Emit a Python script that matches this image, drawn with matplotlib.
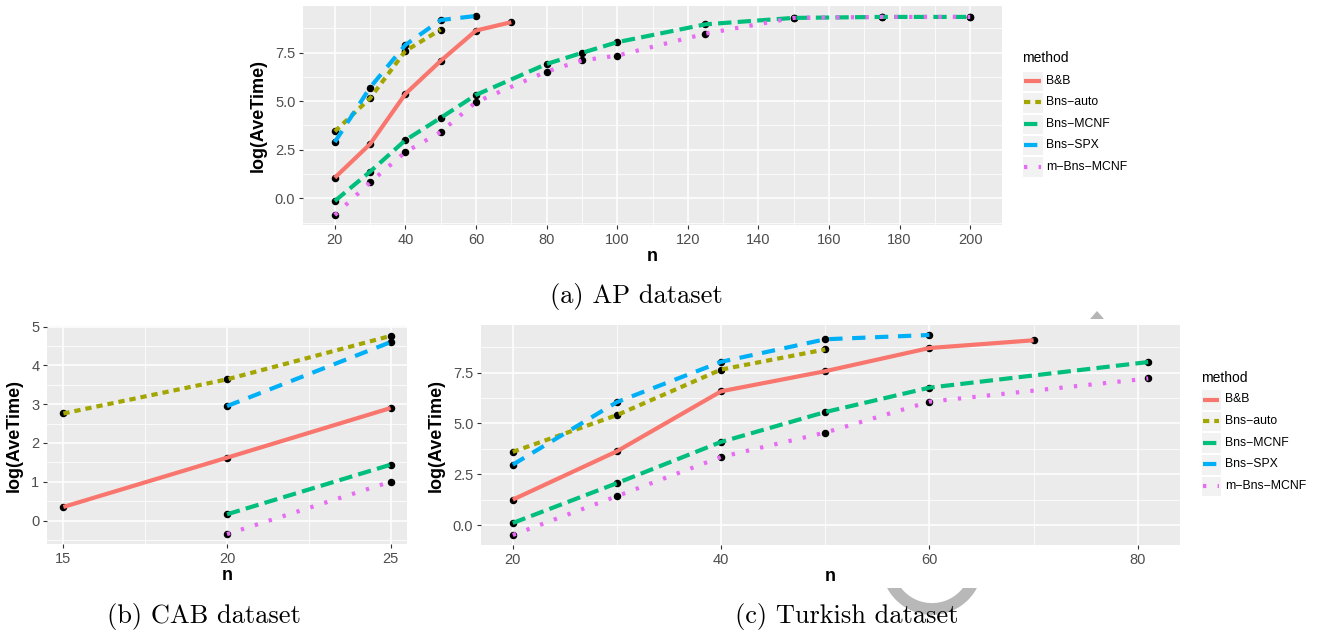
"""Average running time (log) of the five methods on the AP, CAB and Turkish datasets."""

import matplotlib
matplotlib.use("Agg")  # headless
import matplotlib.pyplot as plt
from matplotlib.lines import Line2D
from matplotlib.patches import Rectangle, Arc, Polygon
from matplotlib.ticker import MultipleLocator, FormatStrFormatter
from matplotlib.transforms import Bbox, TransformedBbox

plt.rcParams["font.family"] = ["Liberation Sans", "DejaVu Sans"]

W, H = 1317, 635

methods = ["B&B", "Bns-auto", "Bns-MCNF", "Bns-SPX", "m-Bns-MCNF"]
labels = ["B&B", "Bns\u2212auto", "Bns\u2212MCNF", "Bns\u2212SPX", "m\u2212Bns\u2212MCNF"]
colors = ["#F8766D", "#A3A500", "#00BF7D", "#00B0F6", "#E76BF3"]
dashes = [None, (1.5, 1.2), (3.2, 1.5), (3.2, 2.3), (0.8, 2.7)]

# (a) AP dataset
ap_bb_n = [20, 30, 40, 50, 60, 70]
ap_bb = [1.06, 2.79, 5.37, 7.07, 8.63, 9.06]
ap_auto_n = [20, 30, 40, 50]
ap_auto = [3.44, 5.15, 7.58, 8.68]
ap_mcnf_n = [20, 30, 40, 50, 60, 80, 90, 100, 125, 150, 175, 200]
ap_mcnf = [-0.14, 1.37, 2.99, 4.14, 5.32, 6.91, 7.48, 8.03, 8.95, 9.28, 9.33, 9.33]
ap_spx_n = [20, 30, 40, 50, 60]
ap_spx = [2.89, 5.70, 7.89, 9.17, 9.38]
ap_mmcnf_n = [20, 30, 40, 50, 60, 80, 90, 100, 125, 150, 175, 200]
ap_mmcnf = [-0.86, 0.82, 2.38, 3.41, 4.95, 6.52, 7.09, 7.34, 8.47, 9.28, 9.33, 9.33]

# (b) CAB dataset
cab_bb_n = [15, 20, 25]
cab_bb = [0.35, 1.62, 2.90]
cab_auto_n = [15, 20, 25]
cab_auto = [2.76, 3.64, 4.76]
cab_mcnf_n = [20, 25]
cab_mcnf = [0.16, 1.44]
cab_spx_n = [20, 25]
cab_spx = [2.95, 4.60]
cab_mmcnf_n = [20, 25]
cab_mmcnf = [-0.35, 1.00]

# (c) Turkish dataset
tr_bb_n = [20, 30, 40, 50, 60, 70]
tr_bb = [1.25, 3.63, 6.58, 7.57, 8.71, 9.09]
tr_auto_n = [20, 30, 40, 50]
tr_auto = [3.60, 5.41, 7.65, 8.64]
tr_mcnf_n = [20, 30, 40, 50, 60, 81]
tr_mcnf = [0.10, 2.06, 4.09, 5.56, 6.76, 8.02]
tr_spx_n = [20, 30, 40, 50, 60]
tr_spx = [2.97, 6.05, 8.03, 9.14, 9.35]
tr_mmcnf_n = [20, 30, 40, 50, 60, 81]
tr_mmcnf = [-0.49, 1.42, 3.35, 4.55, 6.07, 7.21]

panels = {
    "ap": [(ap_bb_n, ap_bb), (ap_auto_n, ap_auto), (ap_mcnf_n, ap_mcnf),
           (ap_spx_n, ap_spx), (ap_mmcnf_n, ap_mmcnf)],
    "cab": [(cab_bb_n, cab_bb), (cab_auto_n, cab_auto), (cab_mcnf_n, cab_mcnf),
            (cab_spx_n, cab_spx), (cab_mmcnf_n, cab_mmcnf)],
    "tr": [(tr_bb_n, tr_bb), (tr_auto_n, tr_auto), (tr_mcnf_n, tr_mcnf),
           (tr_spx_n, tr_spx), (tr_mmcnf_n, tr_mmcnf)],
}

LW = 3.0


def px_box(l, t, r, b):
    return [l / W, 1 - b / H, (r - l) / W, (b - t) / H]


def fx(x):
    return x / W


def fy(y):
    return 1 - y / H


def expand(vals):
    lo, hi = min(vals), max(vals)
    pad = 0.05 * (hi - lo)
    return lo - pad, hi + pad


def draw_panel(ax, series, xmaj, ymaj, yfmt, ylabelpad):
    xs = [v for s in series for v in s[0]]
    ys = [v for s in series for v in s[1]]
    ax.set_facecolor("#EBEBEB")
    for sp in ax.spines.values():
        sp.set_visible(False)
    for (x, y), c, d in zip(series, colors, dashes):
        ax.plot(x, y, "o", color="black", ms=4.4, zorder=2)
        ln, = ax.plot(x, y, color=c, lw=LW, zorder=3, solid_capstyle="butt",
                      dash_capstyle="butt")
        if d is not None:
            ln.set_dashes(d)
    ax.set_xlim(*expand(xs))
    ax.set_ylim(*expand(ys))
    ax.xaxis.set_major_locator(MultipleLocator(xmaj))
    ax.xaxis.set_minor_locator(MultipleLocator(xmaj / 2))
    ax.yaxis.set_major_locator(MultipleLocator(ymaj))
    ax.yaxis.set_minor_locator(MultipleLocator(ymaj / 2))
    ax.yaxis.set_major_formatter(FormatStrFormatter(yfmt))
    ax.grid(which="major", color="white", lw=1.1)
    ax.grid(which="minor", color="white", lw=0.55)
    ax.set_axisbelow(True)
    ax.tick_params(which="major", length=3, width=0.8, color="#333333",
                   labelsize=10.5, labelcolor="#4D4D4D", pad=2.5)
    ax.tick_params(which="minor", length=0)
    ax.set_xlabel("n", fontsize=13, fontweight="bold", labelpad=1)
    ax.set_ylabel("log(AveTime)", fontsize=13, fontweight="bold",
                  labelpad=ylabelpad)


def draw_legend(fig, left, title_y, first_y, step, key_w, key_h, text_x):
    fig.text(fx(left), fy(title_y), "method", fontsize=10, va="center",
             ha="left")
    for i, (lab, c, d) in enumerate(zip(labels, colors, dashes)):
        cy = first_y + i * step
        fig.add_artist(Rectangle((fx(left), fy(cy + key_h / 2)), key_w / W,
                                 key_h / H, transform=fig.transFigure,
                                 facecolor="#F2F2F2", edgecolor="white",
                                 lw=0.8))
        ln = Line2D([fx(left + 2), fx(left + key_w - 2)], [fy(cy), fy(cy)],
                    transform=fig.transFigure, color=c, lw=LW,
                    solid_capstyle="butt", dash_capstyle="butt")
        if d is not None:
            ln.set_dashes(d)
        fig.add_artist(ln)
        fig.text(fx(text_x), fy(cy), lab, fontsize=8.8, va="center",
                 ha="left")


fig = plt.figure(figsize=(W / 100, H / 100), dpi=100)

ax_a = fig.add_axes(px_box(303, 6, 1002, 225))
draw_panel(ax_a, panels["ap"], 20, 2.5, "%.1f", 6)

ax_b = fig.add_axes(px_box(47, 326, 407, 544))
draw_panel(ax_b, panels["cab"], 5, 1, "%d", 6)

ax_c = fig.add_axes(px_box(481, 325, 1180, 545))
draw_panel(ax_c, panels["tr"], 20, 2.5, "%.1f", 6)

draw_legend(fig, 1022, 58, 81, 21.4, 20.5, 20.5, 1046)
draw_legend(fig, 1201, 378, 399.5, 21.6, 19.5, 20.5, 1225)

# faint logo remnants from the source page, partly hidden behind the panels
ring = Arc((fx(932), fy(564)), 90 / W, 90 / H, theta1=180, theta2=360,
           transform=fig.transFigure, color="#B8B8B8", lw=8.5, zorder=0)
ring.set_clip_box(TransformedBbox(Bbox([[0, 0], [1, fy(588)]]),
                                  fig.transFigure))
fig.add_artist(ring)
fig.add_artist(Polygon([(fx(1090), fy(319)), (fx(1104), fy(319)),
                        (fx(1097), fy(311))], closed=True,
                       transform=fig.transFigure, color="#B5B5B5", lw=0,
                       zorder=0))

cap = dict(family="cmr10", fontsize=19, ha="center", va="center")
fig.text(fx(636), fy(297), "(a) AP dataset", **cap)
fig.text(fx(204), fy(617), "(b) CAB dataset", **cap)
fig.text(fx(847), fy(617), "(c) Turkish dataset", **cap)

fig.savefig("out.png", dpi=100)
